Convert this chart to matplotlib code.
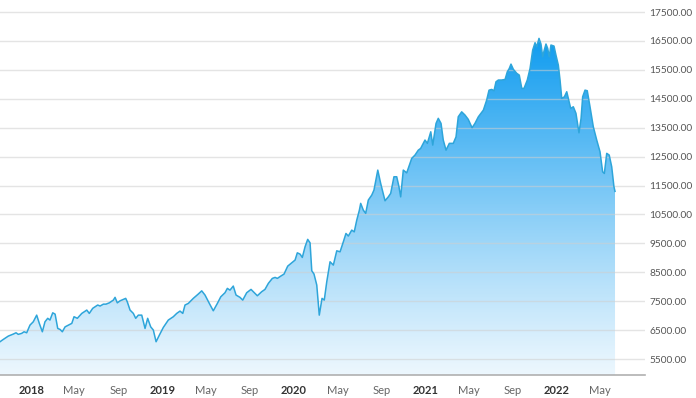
import numpy as np
import pandas as pd
import matplotlib
matplotlib.use('Agg')
import matplotlib.pyplot as plt
import matplotlib.dates as mdates
from matplotlib.colors import LinearSegmentedColormap

plt.rcParams['font.family'] = ['Lato', 'DejaVu Sans']

# index level (decimal year, points)
years = [2017.764, 2017.789, 2017.827, 2017.865, 2017.886, 2017.903, 2017.929, 2017.947, 2017.967, 2017.992,
         2018.017, 2018.043, 2018.063, 2018.086, 2018.106, 2018.127, 2018.144, 2018.165, 2018.183, 2018.203,
         2018.221, 2018.238, 2018.259, 2018.284, 2018.310, 2018.327, 2018.352, 2018.386, 2018.424, 2018.443,
         2018.469, 2018.507, 2018.525, 2018.550, 2018.570, 2018.595, 2018.626, 2018.639, 2018.656, 2018.677,
         2018.702, 2018.720, 2018.732, 2018.753, 2018.778, 2018.796, 2018.816, 2018.842, 2018.867, 2018.887,
         2018.910, 2018.930, 2018.951, 2018.976, 2019.006, 2019.044, 2019.082, 2019.108, 2019.133, 2019.154,
         2019.171, 2019.196, 2019.234, 2019.272, 2019.298, 2019.323, 2019.356, 2019.386, 2019.417, 2019.443,
         2019.475, 2019.493, 2019.513, 2019.538, 2019.559, 2019.589, 2019.610, 2019.640, 2019.673, 2019.703,
         2019.721, 2019.754, 2019.779, 2019.805, 2019.835, 2019.856, 2019.873, 2019.899, 2019.924, 2019.952,
         2019.982, 2020.008, 2020.025, 2020.046, 2020.063, 2020.084, 2020.104, 2020.122, 2020.135, 2020.152,
         2020.173, 2020.192, 2020.213, 2020.230, 2020.249, 2020.274, 2020.299, 2020.325, 2020.350, 2020.375,
         2020.395, 2020.413, 2020.439, 2020.458, 2020.477, 2020.497, 2020.507, 2020.527, 2020.545, 2020.565,
         2020.591, 2020.608, 2020.637, 2020.659, 2020.692, 2020.717, 2020.735, 2020.760, 2020.781, 2020.798,
         2020.811, 2020.831, 2020.857, 2020.895, 2020.920, 2020.945, 2020.963, 2020.996, 2021.014, 2021.040,
         2021.055, 2021.080, 2021.097, 2021.118, 2021.135, 2021.156, 2021.181, 2021.211, 2021.232, 2021.249,
         2021.275, 2021.300, 2021.325, 2021.354, 2021.376, 2021.402, 2021.440, 2021.465, 2021.483, 2021.503,
         2021.521, 2021.536, 2021.554, 2021.579, 2021.605, 2021.622, 2021.637, 2021.650, 2021.668, 2021.694,
         2021.713, 2021.732, 2021.749, 2021.774, 2021.795, 2021.815, 2021.833, 2021.846, 2021.863, 2021.878,
         2021.891, 2021.903, 2021.916, 2021.929, 2021.941, 2021.954, 2021.977, 2021.992, 2022.010, 2022.023,
         2022.036, 2022.056, 2022.074, 2022.089, 2022.104, 2022.124, 2022.144, 2022.167, 2022.183, 2022.195,
         2022.213, 2022.230, 2022.251, 2022.276, 2022.302, 2022.327, 2022.347, 2022.360, 2022.378, 2022.397,
         2022.416, 2022.433, 2022.441]

values = [6100, 6180, 6295, 6365, 6410, 6355, 6390, 6445, 6410, 6675,
          6790, 7020, 6735, 6445, 6790, 6910, 6850, 7100, 7055, 6560,
          6525, 6445, 6615, 6675, 6735, 6965, 6910, 7080, 7195, 7080,
          7255, 7370, 7335, 7400, 7400, 7445, 7540, 7635, 7445, 7515,
          7565, 7600, 7480, 7195, 7080, 6910, 7020, 7020, 6560, 6910,
          6615, 6505, 6100, 6330, 6595, 6850, 6965, 7080, 7160, 7080,
          7370, 7425, 7600, 7750, 7860, 7715, 7425, 7170, 7425, 7655,
          7795, 7945, 7885, 8025, 7715, 7635, 7540, 7795, 7910, 7770,
          7690, 7830, 7910, 8120, 8290, 8325, 8290, 8370, 8440, 8715,
          8830, 8925, 9175, 9130, 9015, 9385, 9640, 9520, 8555, 8440,
          8060, 7020, 7600, 7540, 8175, 8865, 8750, 9245, 9210, 9555,
          9845, 9755, 9960, 9900, 10305, 10650, 10885, 10650, 10540, 11000,
          11170, 11345, 12035, 11575, 10975, 11110, 11230, 11805, 11805, 11460,
          11110, 12035, 11940, 12440, 12555, 12725, 12785, 13075, 12960, 13360,
          12900, 13650, 13825, 13650, 13075, 12725, 12960, 12960, 13185, 13880,
          14050, 13940, 13790, 13500, 13650, 13880, 14110, 14455, 14800, 14825,
          14780, 15090, 15150, 15150, 15170, 15435, 15550, 15700, 15520, 15380,
          15320, 14860, 14860, 15150, 15550, 16185, 16440, 16300, 16590, 16395,
          15955, 16185, 16395, 16245, 15955, 16360, 16325, 16010, 15665, 15150,
          14515, 14570, 14745, 14455, 14170, 14225, 14000, 13325, 13825, 14570,
          14800, 14780, 14225, 13535, 13075, 12670, 11975, 11920, 12615, 12555,
          12150, 11460, 11300]

y_ticks = [5500, 6500, 7500, 8500, 9500, 10500, 11500, 12500, 13500, 14500, 15500, 16500, 17500]
x_tick_dates = ['2018-01-01', '2018-05-01', '2018-09-01', '2019-01-01', '2019-05-01', '2019-09-01',
                '2020-01-01', '2020-05-01', '2020-09-01', '2021-01-01', '2021-05-01', '2021-09-01',
                '2022-01-01', '2022-05-01']
x_tick_labels = ['2018', 'May', 'Sep', '2019', 'May', 'Sep', '2020', 'May', 'Sep',
                 '2021', 'May', 'Sep', '2022', 'May']


def to_date(yr):
    base = pd.Timestamp('2018-01-01')
    return base + pd.to_timedelta((np.asarray(yr) - 2018) * 365.25, unit='D')


dates = mdates.date2num(to_date(years))
vals = np.array(values, dtype=float)

fig = plt.figure(figsize=(6.96, 3.98), dpi=100)
ax = fig.add_axes([0.0, 0.0578, 0.9267, 0.9264])

y_lo, y_hi = 4950, 17700
x_lo = mdates.date2num(to_date(2017.764))
x_hi = mdates.date2num(to_date(2022.669))

# gradient fill under the line, fading towards the bottom
cmap = LinearSegmentedColormap.from_list('fillgrad', ['#ecf7fe', '#109cef'])
grad = np.linspace(0, 1, 256) ** 1.1
grad = grad[:, None]
poly = ax.fill_between(dates, vals, y_lo, color='none', lw=0)
img = ax.imshow(grad, cmap=cmap, aspect='auto', origin='lower',
                extent=[dates[0], dates[-1], y_lo, vals.max()], zorder=1)
img.set_clip_path(poly.get_paths()[0], transform=ax.transData)

for t in y_ticks:
    ax.axhline(t, color='#cfcfcf', lw=1.0, alpha=0.55, zorder=2)

ax.plot(dates, vals, color='#2ea5da', lw=1.1, zorder=3)

ax.set_xlim(x_lo, x_hi)
ax.set_ylim(y_lo, y_hi)

for s in ['top', 'left', 'right']:
    ax.spines[s].set_visible(False)
ax.spines['bottom'].set_color('#b0b0b0')
ax.spines['bottom'].set_linewidth(1.2)

ax.yaxis.tick_right()
ax.set_yticks(y_ticks)
ax.set_yticklabels([f'{t:.2f}' for t in y_ticks])
ax.tick_params(axis='y', length=0, pad=3, labelsize=7.3, labelcolor='#555555')

ax.set_xticks(mdates.date2num(pd.to_datetime(x_tick_dates)))
ax.set_xticklabels(x_tick_labels)
ax.tick_params(axis='x', length=0, pad=7, labelsize=8, labelcolor='#666666')
for lbl in ax.get_xticklabels():
    if lbl.get_text().isdigit():
        lbl.set_color('#333333')
        lbl.set_fontweight('bold')

fig.savefig('out.png', dpi=100)
